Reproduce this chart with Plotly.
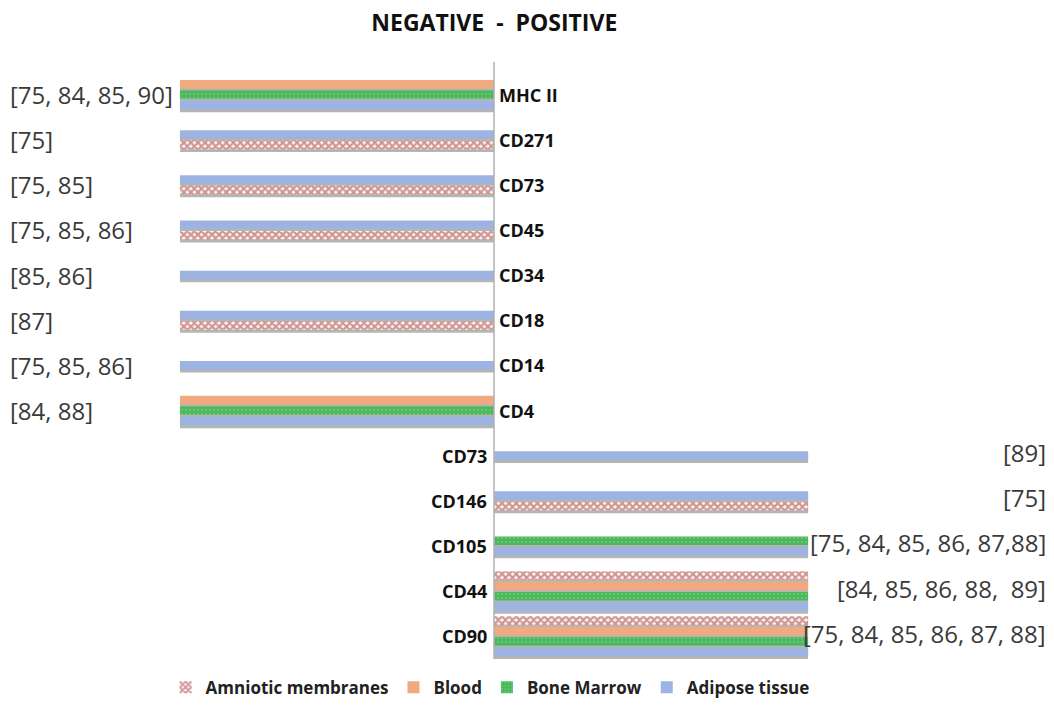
import plotly.graph_objects as go

# ---------------- data ----------------
categories = ["MHC II", "CD271", "CD73", "CD45", "CD34", "CD18", "CD14", "CD4",
              "CD73", "CD146", "CD105", "CD44", "CD90"]
sides = ["neg"] * 8 + ["pos"] * 5          # NEGATIVE markers left, POSITIVE right
references = ["[75, 84, 85, 90]", "[75]", "[75, 85]", "[75, 85, 86]", "[85, 86]",
              "[87]", "[75, 85, 86]", "[84, 88]",
              "[89]", "[75]", "[75, 84, 85, 86, 87,88]", "[84, 85, 86, 88,  89]",
              "[75, 84, 85, 86, 87, 88]"]

series_names = ["Amniotic membranes", "Blood", "Bone Marrow", "Adipose tissue"]
amniotic = [None, -1, -1, -1, None, -1, None, None, None, 1, None, 1, 1]
blood    = [-1, None, None, None, None, None, None, -1, None, None, None, 1, 1]
marrow   = [-1, None, None, None, None, None, None, -1, None, None, 1, 1, 1]
adipose  = [-1, -1, -1, -1, -1, -1, -1, -1, 1, 1, 1, 1, 1]
series_values = [amniotic, blood, marrow, adipose]

# ---------------- styles ----------------
fills = {
    "Amniotic membranes": dict(color="#fbf3f2",
                               pattern=dict(shape="x", fgcolor="#a2352f", bgcolor="#fbf3f2",
                                            size=5, solidity=0.65)),
    "Blood": dict(color="#f1a980"),
    "Bone Marrow": dict(color="#4ab85b",
                        pattern=dict(shape=".", fgcolor="#d8f3d8", bgcolor="#4ab85b",
                                     size=4, solidity=0.12)),
    "Adipose tissue": dict(color="#9db3e2"),
}
BAR_W = 0.19
PITCH = 0.23
SHADOW = 0.065

keys = [f"{s}:{c}" for s, c in zip(sides, categories)]

# compute in-group ordering / offsets from which series are present
offsets = {name: [None] * len(categories) for name in series_names}
for i in range(len(categories)):
    present = [n for n, vals in zip(series_names, series_values) if vals[i] is not None]
    if set(present) == {"Amniotic membranes", "Adipose tissue"}:
        present = ["Adipose tissue", "Amniotic membranes"]
    n = len(present)
    for k, name in enumerate(present):
        centre = (k - (n - 1) / 2) * PITCH
        offsets[name][i] = centre - BAR_W / 2

fig = go.Figure()

# shadows
for name, vals in zip(series_names, series_values):
    idx = [i for i, v in enumerate(vals) if v is not None]
    fig.add_trace(go.Bar(
        y=[keys[i] for i in idx], x=[vals[i] for i in idx], orientation="h",
        offset=[offsets[name][i] + SHADOW for i in idx], width=BAR_W,
        marker=dict(color="#b5b5b5", line=dict(width=0)),
        showlegend=False, hoverinfo="skip"))

# main bars
for name, vals in zip(series_names, series_values):
    idx = [i for i, v in enumerate(vals) if v is not None]
    mk = dict(fills[name])
    mk["line"] = dict(width=0)
    fig.add_trace(go.Bar(
        name=name,
        y=[keys[i] for i in idx], x=[vals[i] for i in idx], orientation="h",
        offset=[offsets[name][i] for i in idx], width=BAR_W,
        marker=mk))

annotations = []
for i, (cat, side, ref) in enumerate(zip(categories, sides, references)):
    if side == "neg":
        annotations.append(dict(x=0, y=i, xref="x", yref="y", text=cat, showarrow=False,
                                xanchor="left", xshift=3,
                                font=dict(family="Open Sans", size=18, color="#111", weight="bold")))
        annotations.append(dict(x=0.008, y=i, xref="paper", yref="y", text=ref, showarrow=False,
                                xanchor="left",
                                font=dict(family="Open Sans", size=24, color="#3a3a3a")))
    else:
        annotations.append(dict(x=0, y=i, xref="x", yref="y", text=cat, showarrow=False,
                                xanchor="right", xshift=-5,
                                font=dict(family="Open Sans", size=18, color="#111", weight="bold")))
        annotations.append(dict(x=0.994, y=i, xref="paper", yref="y", text=ref, showarrow=False,
                                xanchor="right", yshift=3,
                                font=dict(family="Open Sans", size=24, color="#3a3a3a")))

fig.update_layout(
    width=1054, height=706,
    margin=dict(l=0, r=0, t=72, b=42),
    paper_bgcolor="white", plot_bgcolor="white",
    barmode="overlay",
    title=dict(text="NEGATIVE\u00a0\u00a0-\u00a0\u00a0POSITIVE", x=0.469, xanchor="center",
               y=0.968, yanchor="middle",
               font=dict(family="Open Sans", size=23, color="#111", weight="bold")),
    xaxis=dict(range=[-1.573, 1.783], showgrid=False, showticklabels=False, ticks="",
               zeroline=False),
    yaxis=dict(type="category", categoryorder="array", categoryarray=keys,
               autorange="reversed", showgrid=False, showticklabels=False, ticks="",
               zeroline=False, showline=False),
    shapes=[dict(type="line", xref="x", yref="paper", x0=0, x1=0, y0=0.0, y1=1.017,
                 line=dict(color="#b0b0b0", width=1.5), layer="above")],
    legend=dict(orientation="h", x=0.465, xanchor="center", y=-0.049, yanchor="middle",
                font=dict(family="Open Sans", size=17, color="#222", weight="bold"),
                traceorder="normal", itemwidth=30),
    annotations=annotations,
    showlegend=True,
)

fig.write_html("out.html", config={"displayModeBar": False},
               post_script="document.body.style.margin='0';document.body.style.overflow='hidden';")
